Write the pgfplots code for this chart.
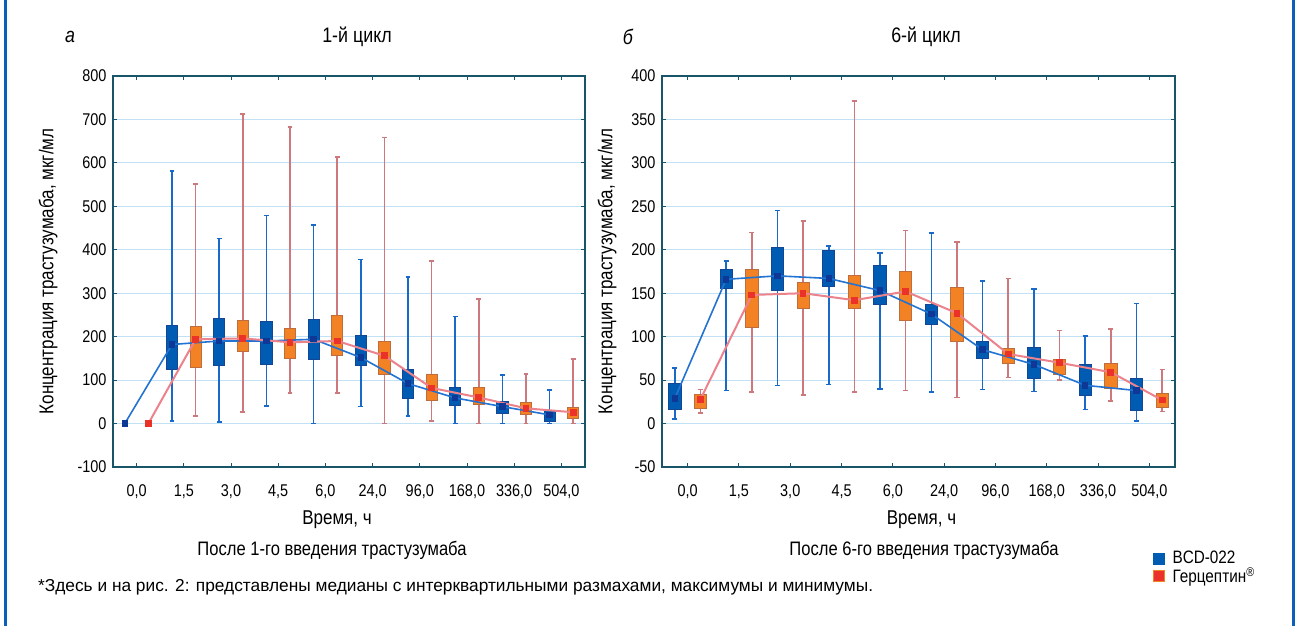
\documentclass[border=0pt]{standalone}
\usepackage{fontspec}
\setmainfont{Liberation Sans}
\newfontfamily\nar{Liberation Sans}[FakeStretch=0.85]
\usepackage{pgfplots}
\pgfplotsset{compat=1.18}
\usepgfplotslibrary{statistics}

\definecolor{bfill}{RGB}{0,92,178}
\definecolor{bdraw}{RGB}{20,70,150}
\definecolor{bwhisk}{RGB}{25,105,200}
\definecolor{bline}{RGB}{35,115,210}
\definecolor{bmark}{RGB}{15,55,150}
\definecolor{ofill}{RGB}{242,130,35}
\definecolor{odraw}{RGB}{190,110,60}
\definecolor{owhisk}{RGB}{205,120,125}
\definecolor{oline}{RGB}{235,130,140}
\definecolor{omark}{RGB}{235,50,40}
\definecolor{gridc}{RGB}{195,225,245}
\definecolor{framec}{RGB}{25,85,105}
\definecolor{borderc}{RGB}{10,95,185}

\pgfplotsset{
  panel/.style={
    scale only axis, height=391pt, anchor=south west,
    xmin=-0.5, xmax=9.5, xtick={0,...,9},
    xticklabels={{0,0},{1,5},{3,0},{4,5},{6,0},{24,0},{96,0},{168,0},{336,0},{504,0}},
    ymajorgrids, grid style={gridc, line width=0.8pt},
    axis line style={framec, line width=1.5pt},
    tick style={framec, line width=1pt}, tick align=inside, major tick length=4pt,
    ticklabel style={font=\nar\fontsize{17}{19}\selectfont},
    xticklabel style={yshift=-14pt},
    yticklabel style={xshift=-3pt},
    /pgf/number format/assume math mode=true,
    xlabel={Время, ч}, ylabel={Концентрация трастузумаба, мкг/мл},
    label style={font=\nar\fontsize{20}{22}\selectfont},
  },
  bxB/.style={draw=bdraw, fill=bfill, line width=0.8pt, forget plot,
    boxplot/draw direction=y,
    boxplot/every whisker/.style={draw=bwhisk, line width=1.6pt},
    boxplot/every median/.style={draw=none},
    boxplot/box extend=0.24, boxplot/whisker extend=0.1},
  bxO/.style={draw=odraw, fill=ofill, line width=0.8pt, forget plot,
    boxplot/draw direction=y,
    boxplot/every whisker/.style={draw=owhisk, line width=1.6pt},
    boxplot/every median/.style={draw=none},
    boxplot/box extend=0.24, boxplot/whisker extend=0.1},
  lnB/.style={bline, line width=1.6pt, mark=square*, mark size=2.4pt,
    mark options={fill=bmark, draw=bmark}, forget plot},
  lnO/.style={oline, line width=2pt, mark=square*, mark size=2.4pt,
    mark options={fill=omark, draw=omark}, forget plot},
}

% position, lower whisker, lower quartile, median, upper quartile, upper whisker
\newcommand\bB[6]{\addplot[bxB, boxplot prepared={draw position=#1,
  lower whisker=#2, lower quartile=#3, median=#4, upper quartile=#5, upper whisker=#6}] coordinates {};}
\newcommand\bO[6]{\addplot[bxO, boxplot prepared={draw position=#1,
  lower whisker=#2, lower quartile=#3, median=#4, upper quartile=#5, upper whisker=#6}] coordinates {};}

\begin{document}
\begin{tikzpicture}

% ---- a: 1st cycle ----
\begin{axis}[panel, at={(113pt,159pt)}, width=472pt,
  ymin=-100, ymax=800, ytick={-100,0,...,800},
  xlabel style={at={([xshift=-12pt,yshift=-53pt]axis description cs:0.5,0)}, anchor=center},
  ylabel style={at={([xshift=-65pt]axis description cs:0,0.5)}, anchor=center}]
\bB{0.75}{6}{125}{182}{227}{581}
\bB{1.75}{3}{135}{190}{242}{426}
\bB{2.75}{41}{137}{190}{234}{479}
\bB{3.75}{0}{148}{194}{239}{457}
\bB{4.75}{39}{135}{152}{202}{378}
\bB{5.75}{17}{59}{92}{125}{338}
\bB{6.75}{0}{41}{59}{83}{246}
\bB{7.75}{0}{23}{39}{52}{112}
\bB{8.75}{0}{6}{20}{31}{77}
\bO{1.25}{18}{129}{194}{223}{551}
\bO{2.25}{26}{165}{196}{237}{712}
\bO{3.25}{70}{150}{187}{218}{682}
\bO{4.25}{70}{157}{190}{248}{613}
\bO{5.25}{0}{112}{156}{188}{658}
\bO{6.25}{6}{53}{82}{113}{374}
\bO{7.25}{0}{45}{60}{83}{287}
\bO{8.25}{0}{20}{35}{49}{114}
\bO{9.25}{0}{12}{26}{37}{148}
\addplot[lnB] coordinates {(-0.25,0) (0.75,182) (1.75,190) (2.75,190) (3.75,194)
  (4.75,152) (5.75,92) (6.75,59) (7.75,39) (8.75,20)};
\addplot[lnO] coordinates {(0.25,0) (1.25,194) (2.25,196) (3.25,187) (4.25,190)
  (5.25,156) (6.25,82) (7.25,60) (8.25,35) (9.25,26)};
\end{axis}

% ---- б: 6th cycle ----
\begin{axis}[panel, at={(662pt,159pt)}, width=513pt,
  ymin=-50, ymax=400, ytick={-50,0,...,400},
  xlabel style={at={([xshift=3pt,yshift=-53pt]axis description cs:0.5,0)}, anchor=center},
  ylabel style={at={([xshift=-55pt]axis description cs:0,0.5)}, anchor=center},
  legend style={at={(0.952,-0.205)}, anchor=north west, draw=none, fill=none,
    font=\nar\fontsize{18}{20}\selectfont, row sep=-2pt},
  legend cell align=left]
\bB{-0.25}{5}{16}{29}{46}{64}
\bB{0.75}{38}{156}{166}{177}{187}
\bB{1.75}{44}{153}{170}{203}{245}
\bB{2.75}{45}{158}{167}{199}{204}
\bB{3.75}{40}{137}{153}{182}{196}
\bB{4.75}{36}{114}{126}{137}{219}
\bB{5.75}{39}{75}{85}{95}{164}
\bB{6.75}{37}{52}{68}{88}{155}
\bB{7.75}{16}{32}{44}{68}{101}
\bB{8.75}{3}{15}{38}{52}{138}
\bO{0.25}{12}{17}{28}{33}{39}
\bO{1.25}{36}{111}{148}{177}{220}
\bO{2.25}{33}{132}{150}{163}{233}
\bO{3.25}{36}{132}{142}{171}{371}
\bO{4.25}{38}{119}{152}{175}{222}
\bO{5.25}{30}{95}{127}{157}{209}
\bO{6.25}{53}{69}{80}{87}{167}
\bO{7.25}{50}{56}{70}{74}{107}
\bO{8.25}{26}{41}{59}{69}{109}
\bO{9.25}{14}{19}{27}{35}{62}
\addplot[lnB] coordinates {(-0.25,29) (0.75,166) (1.75,170) (2.75,167) (3.75,153)
  (4.75,126) (5.75,85) (6.75,68) (7.75,44) (8.75,38)};
\addplot[lnO] coordinates {(0.25,28) (1.25,148) (2.25,150) (3.25,142) (4.25,152)
  (5.25,127) (6.25,80) (7.25,70) (8.25,59) (9.25,27)};
\addlegendimage{only marks, mark=square*, mark size=5.5pt, mark options={fill=bfill, draw=bfill}}
\addlegendentry{\hspace{6pt}BCD-022}
\addlegendimage{only marks, mark=square*, mark size=5.5pt, mark options={fill=omark, draw=ofill, line width=1pt}}
\addlegendentry{\hspace{6pt}Герцептин\textsuperscript{®}}
\end{axis}

\node[font=\nar\fontsize{21}{23}\selectfont\itshape] at (70pt,589pt) {а};
\node[font=\nar\fontsize{21}{23}\selectfont] at (357pt,589pt) {1-й цикл};
\node[font=\nar\fontsize{21}{23}\selectfont\itshape] at (628pt,589pt) {б};
\node[font=\nar\fontsize{21}{23}\selectfont] at (926pt,589pt) {6-й цикл};
\node[font=\nar\fontsize{19.5}{21}\selectfont] at (332pt,76pt) {После 1-го введения трастузумаба};
\node[font=\nar\fontsize{19.5}{21}\selectfont] at (924pt,76pt) {После 6-го введения трастузумаба};
\node[font=\fontsize{17.3}{19}\selectfont, anchor=west, inner sep=0pt] at (38pt,39pt)
  {*Здесь и на рис. 2: представлены медианы с интерквартильными размахами, максимумы и минимумы.};
\draw[borderc, line width=3pt] (5pt,0pt) -- (5pt,626pt);
\draw[borderc, line width=3pt] (1293pt,0pt) -- (1293pt,626pt);

\pgfresetboundingbox
\path[use as bounding box] (0pt,0pt) rectangle (1296pt,626pt);
\end{tikzpicture}
\end{document}
